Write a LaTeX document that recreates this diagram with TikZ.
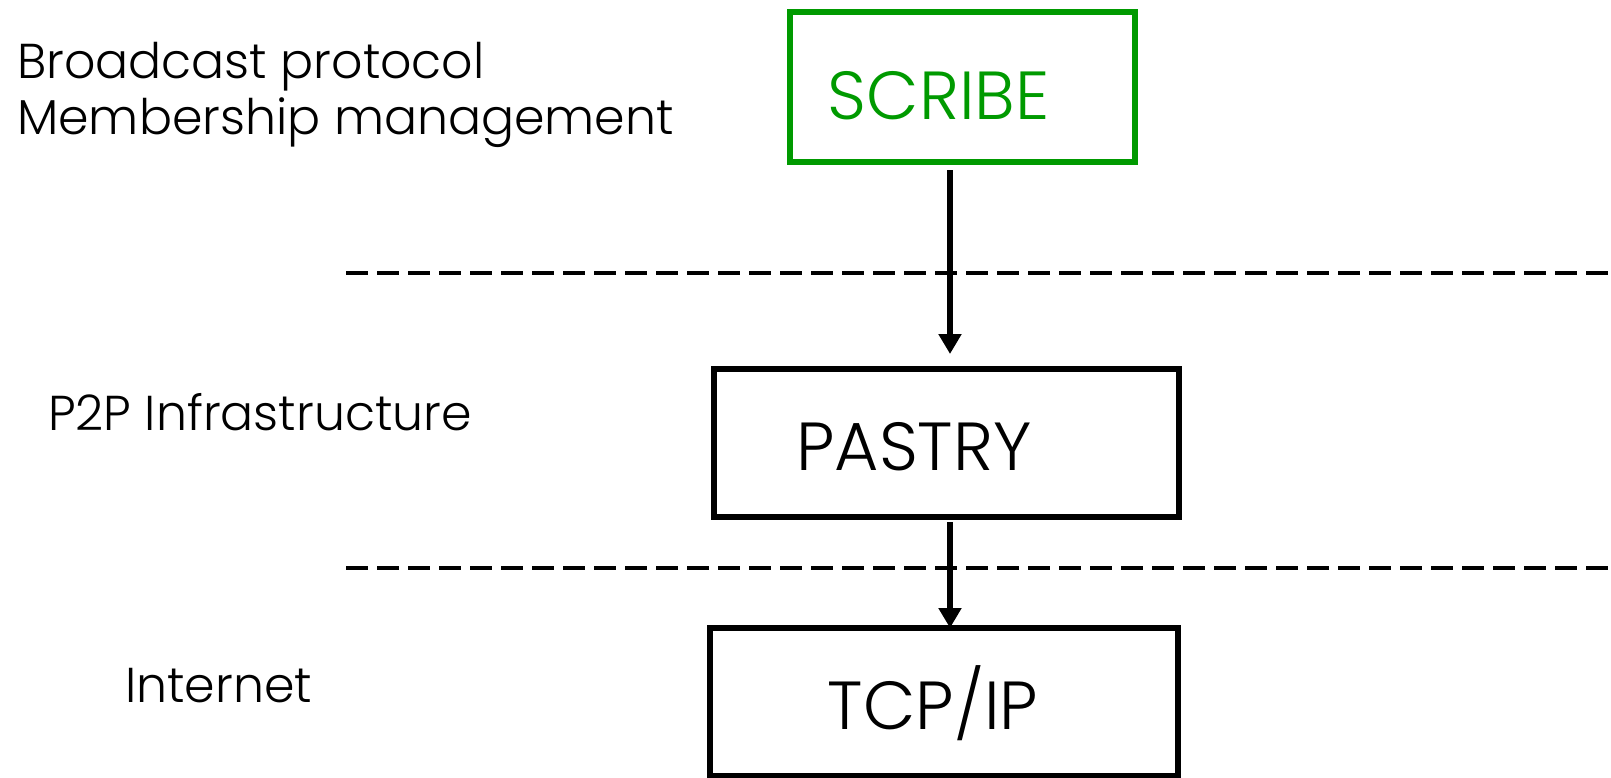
\documentclass[tikz,border=0pt]{standalone}
\usepackage{fontspec}
\setmainfont{Poppins}[UprightFont=* Light]
\usepackage{tikz}
\usetikzlibrary{arrows.meta,positioning,calc}
\usepackage{xcolor}
\definecolor{ScribeGreen}{HTML}{009A00}
\definecolor{LayerBlack}{HTML}{000000}

\begin{document}
\begin{tikzpicture}[x=1pt,y=-1pt,
  layerbox/.style={draw=LayerBlack,line width=6pt,inner sep=0pt,outer sep=0pt},
  boxtext/.style={font=\fontsize{68}{68}\selectfont,inner sep=0pt},
  sidetext/.style={font=\fontsize{49}{56}\selectfont,align=left,anchor=base west,inner sep=0pt},
  flow/.style={-{Triangle[width=22pt,length=20pt]},line width=6pt},
  layerline/.style={line width=3.5pt,dash pattern=on 22pt off 9pt}]
\useasboundingbox (0,0) rectangle (1611,777);
\node[layerbox,draw=ScribeGreen,minimum width=345pt,minimum height=150pt,
  label={[boxtext,text=ScribeGreen,xshift=-24pt,yshift=-9pt]center:SCRIBE}] (scribe) at (962.75,87) {};
\node[layerbox,minimum width=465pt,minimum height=148pt,
  label={[boxtext,xshift=-32pt,yshift=-4pt]center:PASTRY}] (pastry) at (946,443) {};
\node[layerbox,minimum width=468pt,minimum height=148pt,
  label={[boxtext,xshift=-11pt,yshift=-1pt]center:TCP/IP}] (tcpip) at (944,702) {};
\node[sidetext] (bcast) at (17,134) {Broadcast protocol\\Membership management};
\node[sidetext] (p2p) at (48,430) {P2P Infrastructure};
\node[sidetext] (inet) at (125,702) {Internet};
\draw[layerline] (346,273) -- (1611,273);
\draw[layerline] (346,568) -- (1611,568);
\draw[flow,shorten <=8pt,shorten >=15pt] (scribe.south -| 950,0) -- (pastry.north -| 950,0);
\draw[flow,shorten <=5pt] (pastry.south -| 950,0) -- (tcpip.north -| 950,0);
\end{tikzpicture}
\end{document}
